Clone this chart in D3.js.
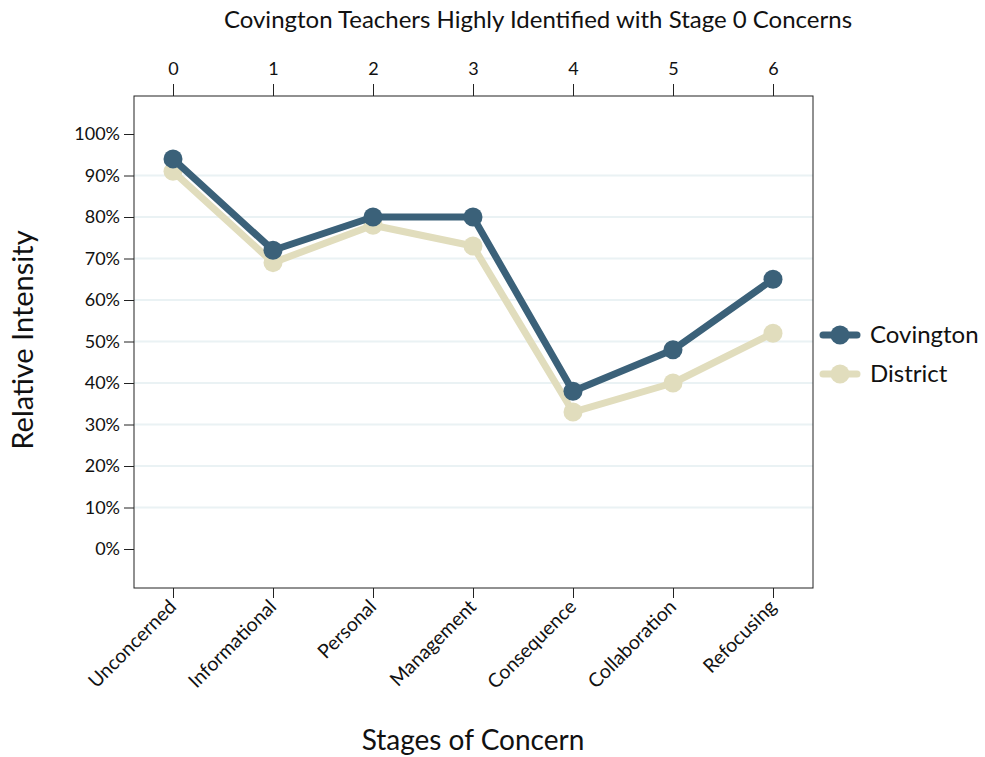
<!DOCTYPE html>
<html>
<head>
<meta charset="utf-8">
<script src="https://cdn.jsdelivr.net/npm/d3@7"></script>
<style>
  body { margin: 0; background: #fff; }
  text { font-family: Lato, "Open Sans", sans-serif; fill: #111; }
</style>
</head>
<body>
<div id="chart"></div>
<script>
var stages = ["Unconcerned", "Informational", "Personal", "Management", "Consequence", "Collaboration", "Refocusing"];
var stageNums = [0, 1, 2, 3, 4, 5, 6];
var covington = [94, 72, 80, 80, 38, 48, 65];
var district = [91, 69, 78, 73, 33, 40, 52];
var yTicks = [0, 10, 20, 30, 40, 50, 60, 70, 80, 90, 100];

var width = 985, height = 757;
var box = {left: 134, right: 813, top: 96, bottom: 588};

var svg = d3.select("#chart").append("svg")
    .attr("width", width)
    .attr("height", height);

var x = d3.scaleLinear().domain([0, 6]).range([173, 773]);
var y = d3.scaleLinear().domain([0, 100]).range([549, 134]);

// gridlines
svg.append("g").selectAll("line")
    .data(yTicks.filter(function(d) { return d > 0 && d < 100; }))
  .enter().append("line")
    .attr("x1", box.left).attr("x2", box.right)
    .attr("y1", function(d) { return y(d); })
    .attr("y2", function(d) { return y(d); })
    .style("stroke", "#eaf2f4")
    .style("stroke-width", 2);

// frame
svg.append("rect")
    .attr("x", box.left).attr("y", box.top)
    .attr("width", box.right - box.left).attr("height", box.bottom - box.top)
    .style("fill", "none").style("stroke", "#222").style("stroke-width", 1);

// axes
var yAxis = d3.axisLeft(y).tickValues(yTicks).tickSize(10).tickPadding(4)
    .tickFormat(function(d) { return d + "%"; });
var gy = svg.append("g").attr("transform", "translate(" + box.left + ",0)").call(yAxis);
gy.select(".domain").remove();
gy.selectAll("text").style("font-size", "18px");

var topAxis = d3.axisTop(x).tickValues(stageNums).tickSize(12).tickPadding(9)
    .tickFormat(d3.format("d"));
var gt = svg.append("g").attr("transform", "translate(0," + box.top + ")").call(topAxis);
gt.select(".domain").remove();
gt.selectAll("text").style("font-size", "18px");

var bottomAxis = d3.axisBottom(x).tickValues(stageNums).tickSize(10)
    .tickFormat(function(d) { return stages[d]; });
var gb = svg.append("g").attr("transform", "translate(0," + box.bottom + ")").call(bottomAxis);
gb.select(".domain").remove();
gb.selectAll("text")
    .style("font-size", "19.5px")
    .style("text-anchor", "end")
    .attr("dy", null)
    .attr("y", 0)
    .attr("transform", "translate(4,20) rotate(-45)");

svg.selectAll(".tick line").style("stroke", "#222");

// series
var line = d3.line()
    .x(function(d, i) { return x(i); })
    .y(function(d) { return y(d); });

var series = [
  {name: "Covington", values: covington, color: "#3b6179"},
  {name: "District", values: district, color: "#e1ddbd"}
];

series.slice().reverse().forEach(function(s) {
  svg.append("path")
      .datum(s.values)
      .attr("d", line)
      .style("fill", "none")
      .style("stroke", s.color)
      .style("stroke-width", 7)
      .style("stroke-linejoin", "round");
  svg.append("g").selectAll("circle")
      .data(s.values)
    .enter().append("circle")
      .attr("cx", function(d, i) { return x(i); })
      .attr("cy", function(d) { return y(d); })
      .attr("r", 9.5)
      .style("fill", s.color);
});

// legend
var legend = svg.append("g");
series.forEach(function(s, i) {
  var ly = 335 + i * 39;
  legend.append("line")
      .attr("x1", 823).attr("x2", 857)
      .attr("y1", ly).attr("y2", ly)
      .style("stroke", s.color).style("stroke-width", 7)
      .style("stroke-linecap", "round");
  legend.append("circle").attr("cx", 840).attr("cy", ly).attr("r", 9.5).style("fill", s.color);
  legend.append("text").attr("x", 870).attr("y", ly)
      .attr("dy", "0.35em")
      .style("font-size", "24px")
      .text(s.name);
});

// titles
svg.append("text")
    .attr("x", 538).attr("y", 28)
    .attr("text-anchor", "middle")
    .style("font-size", "24px")
    .text("Covington Teachers Highly Identified with Stage 0 Concerns");

svg.append("text")
    .attr("transform", "translate(33,340) rotate(-90)")
    .attr("text-anchor", "middle")
    .style("font-size", "29px")
    .text("Relative Intensity");

svg.append("text")
    .attr("x", 473).attr("y", 750)
    .attr("text-anchor", "middle")
    .style("font-size", "28px")
    .text("Stages of Concern");
</script>
</body>
</html>
